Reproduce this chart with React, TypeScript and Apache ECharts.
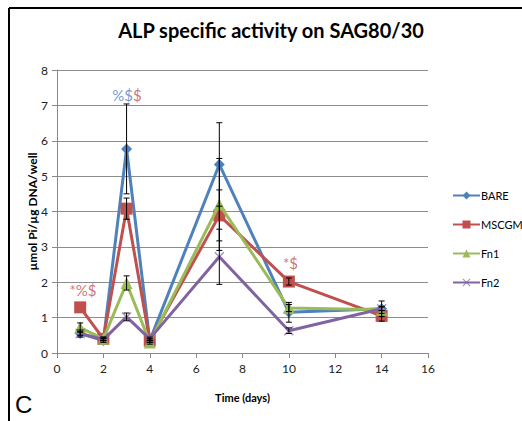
import React, { useEffect, useRef } from "react";
import * as echarts from "echarts";

const days = [1, 2, 3, 4, 7, 10, 14];
const seriesNames = ["BARE", "MSCGM", "Fn1", "Fn2"];
const bare = [0.55, 0.35, 5.77, 0.35, 5.33, 1.15, 1.25];
const mscgm = [1.29, 0.4, 4.08, 0.35, 3.89, 2.02, 1.05];
const fn1 = [0.72, 0.4, 1.98, 0.3, 4.2, 1.27, 1.22];
const fn2 = [0.55, 0.38, 1.02, 0.4, 2.72, 0.63, 1.25];
const bareErr = [0.1, 0.05, 1.27, 0.05, 1.18, 0.28, 0.22];
const mscgmErr = [0, 0.05, 0.3, 0.05, 0.72, 0.1, 0.15];
const fn1Err = [0.13, 0.05, 0.2, 0.05, 1.3, 0.1, 0.1];
const fn2Err = [0.05, 0.03, 0.11, 0.05, 0.78, 0.08, 0.05];
const colors = ["#4F81BD", "#C0504D", "#9BBB59", "#8064A2"];
const yTicks = [0, 8, 1];
const xTicks = [0, 16, 2];
const annotations = [
  { x: 3.02, y: 7.3, parts: [["%$", "b"], ["$", "r"]] },
  { x: 1.12, y: 1.79, parts: [["*%$", "r"]] },
  { x: 10.07, y: 2.55, parts: [["*$", "r"]] },
];

const FONT = "Lato, 'Liberation Sans', sans-serif";
const xSymbol =
  "path://M0,1 L1,0 L5,4 L9,0 L10,1 L6,5 L10,9 L9,10 L5,6 L1,10 L0,9 L4,5 Z";
const symbols = ["diamond", "rect", "triangle", xSymbol];
const symbolSizes = [11, 12, 12, 10];

export default function App() {
  const ref = useRef<HTMLDivElement>(null);
  useEffect(() => {
    if (!ref.current) return;
    const chart = echarts.init(ref.current, undefined, { renderer: "svg" });
    const values = [bare, mscgm, fn1, fn2];
    const errs = [bareErr, mscgmErr, fn1Err, fn2Err];
    const lineSeries = seriesNames.map((name, i) => ({
      name,
      type: "line",
      data: days.map((d, j) => [d, values[i][j]]),
      color: colors[i],
      symbol: symbols[i],
      symbolSize: symbolSizes[i],
      showAllSymbol: true,
      lineStyle: { width: 3, color: colors[i] },
      itemStyle: { color: colors[i], opacity: i === 3 ? 0.7 : 1 },
      z: 2 + i,
    }));
    const errData: number[][] = [];
    values.forEach((v, i) =>
      days.forEach((d, j) => {
        if (errs[i][j] > 0) errData.push([d, v[j], errs[i][j]]);
      })
    );
    const errSeries = {
      type: "custom",
      data: errData,
      encode: { x: 0, y: 1 },
      z: 10,
      silent: true,
      renderItem: (params: any, api: any) => {
        const x = api.value(0);
        const y = api.value(1);
        const e = api.value(2);
        const top = api.coord([x, y + e]);
        const bot = api.coord([x, y - e]);
        const w = 3;
        const style = { stroke: "#000", lineWidth: 1 };
        return {
          type: "group",
          children: [
            { type: "line", shape: { x1: top[0], y1: top[1], x2: bot[0], y2: bot[1] }, style },
            { type: "line", shape: { x1: top[0] - w, y1: top[1], x2: top[0] + w, y2: top[1] }, style },
            { type: "line", shape: { x1: bot[0] - w, y1: bot[1], x2: bot[0] + w, y2: bot[1] }, style },
          ],
        };
      },
    };
    const annSeries = {
      type: "scatter",
      symbolSize: 0,
      silent: true,
      z: 12,
      data: annotations.map((a) => ({
        value: [a.x, a.y],
        label: {
          show: true,
          position: "inside",
          formatter: a.parts.map(([t, c]) => `{${c}|${t}}`).join(""),
          rich: {
            b: { color: "#4F81BD", fontSize: 15, fontFamily: FONT },
            r: { color: "#C0504D", fontSize: 15, fontFamily: FONT },
          },
        },
      })),
    };
    chart.setOption({
      animation: false,
      backgroundColor: "#fff",
      textStyle: { fontFamily: FONT },
      title: {
        text: "ALP specific activity on SAG80/30",
        left: 266,
        top: 15,
        textAlign: "center",
        textStyle: { fontFamily: FONT, fontSize: 20, fontWeight: "bold", color: "#000" },
      },
      legend: {
        orient: "vertical",
        left: 452,
        top: 190,
        padding: 0,
        itemWidth: 27,
        itemHeight: 10,
        itemGap: 18,
        data: seriesNames,
        textStyle: { fontFamily: FONT, fontSize: 11, color: "#000", padding: [0, 0, 0, -4] },
      },
      grid: { left: 57, right: 94, top: 70, bottom: 68 },
      xAxis: {
        type: "value",
        min: xTicks[0],
        max: xTicks[1],
        interval: xTicks[2],
        name: "Time (days)",
        nameLocation: "middle",
        nameGap: 39,
        nameMoveOverlap: false,
        nameTextStyle: { fontFamily: FONT, fontSize: 11, fontWeight: "bold", color: "#000" },
        axisLine: { show: true, lineStyle: { color: "#888", width: 1 } },
        axisTick: { show: true, length: 5, lineStyle: { color: "#888" } },
        axisLabel: { fontFamily: FONT, fontSize: 12, color: "#222", margin: 9 },
        splitLine: { show: false },
      },
      yAxis: {
        type: "value",
        min: yTicks[0],
        max: yTicks[1],
        interval: yTicks[2],
        name: "µmol Pi/µg DNA/well",
        nameLocation: "middle",
        nameGap: 19,
        nameMoveOverlap: false,
        nameTextStyle: { fontFamily: FONT, fontSize: 12, fontWeight: "bold", color: "#000" },
        axisLine: { show: true, lineStyle: { color: "#888", width: 1 } },
        axisTick: { show: true, length: 5, lineStyle: { color: "#888" } },
        axisLabel: { fontFamily: FONT, fontSize: 12, color: "#222", margin: 9 },
        splitLine: { show: true, lineStyle: { color: "#8c8c8c", width: 1 } },
      },
      graphic: [
        { type: "line", shape: { x1: 9, y1: 8, x2: 522, y2: 8 }, style: { stroke: "#000", lineWidth: 2 } },
        { type: "line", shape: { x1: 9, y1: 8, x2: 9, y2: 421 }, style: { stroke: "#000", lineWidth: 2 } },
        {
          type: "text",
          left: 15,
          top: 392,
          style: { text: "C", font: "24px 'Liberation Sans', sans-serif", fill: "#000" },
        },
      ],
      series: [...lineSeries, errSeries, annSeries],
    });
    return () => chart.dispose();
  }, []);
  return (
    <div
      ref={ref}
      style={{ position: "fixed", left: 0, top: 0, width: 522, height: 421 }}
    />
  );
}
